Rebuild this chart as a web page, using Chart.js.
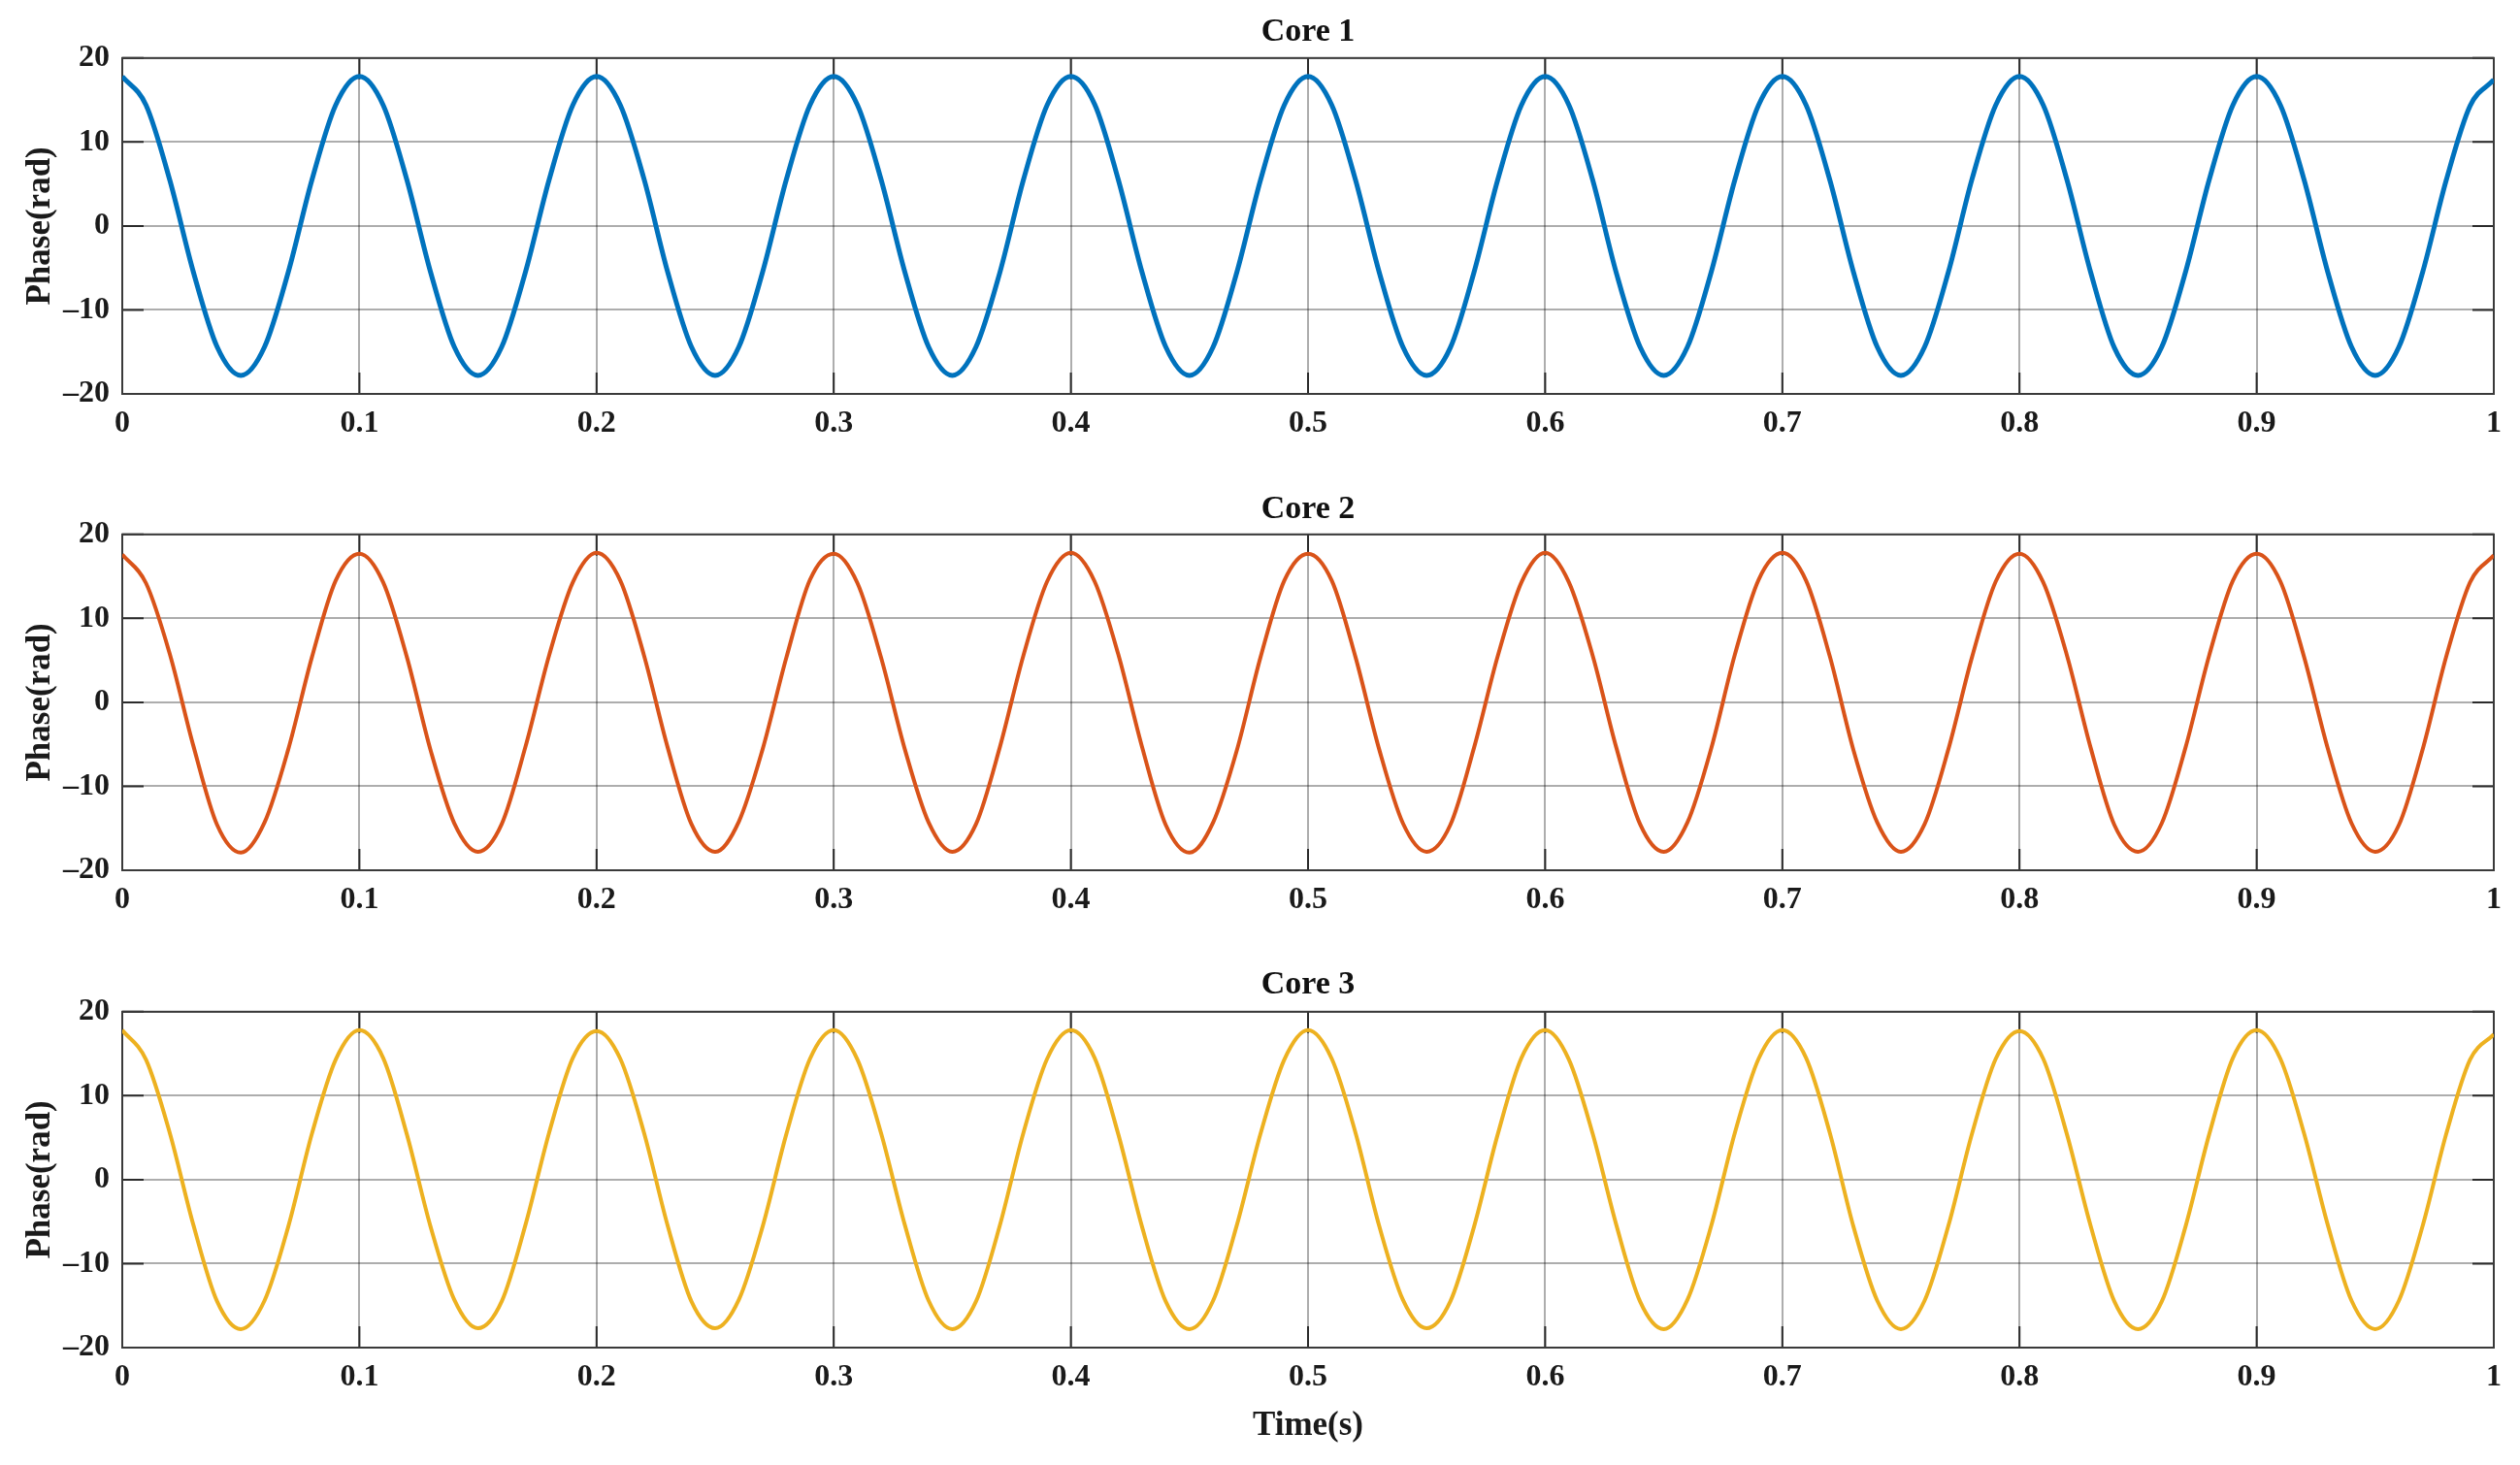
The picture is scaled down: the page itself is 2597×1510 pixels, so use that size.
<!DOCTYPE html>
<html>
<head>
<meta charset="utf-8">
<script src="https://cdn.jsdelivr.net/npm/chart.js@4"></script>
<style>
html, body { margin: 0; padding: 0; background: #fff; }
body { width: 2597px; height: 1510px; position: relative; overflow: hidden; }
canvas { position: absolute; left: 0; }
</style>
</head>
<body>
<canvas id="core1" width="2597" height="480" style="top:0px"></canvas>
<canvas id="core2" width="2597" height="500" style="top:480px"></canvas>
<canvas id="core3" width="2597" height="530" style="top:980px"></canvas>
<script>
const core1 = [
    17.8, 14.4, 5.5, -5.5, -14.4, -17.8, -14.4, -5.5, 5.5, 14.4,
    17.8, 14.4, 5.5, -5.5, -14.4, -17.8, -14.4, -5.5, 5.5, 14.4,
    17.8, 14.4, 5.6, -5.5, -14.4, -17.8, -14.4, -5.5, 5.5, 14.4,
    17.8, 14.4, 5.5, -5.5, -14.4, -17.8, -14.4, -5.6, 5.5, 14.4,
    17.8, 14.5, 5.5, -5.5, -14.4, -17.8, -14.4, -5.5, 5.5, 14.4,
    17.8, 14.4, 5.5, -5.5, -14.4, -17.8, -14.5, -5.5, 5.5, 14.4,
    17.8, 14.4, 5.5, -5.6, -14.4, -17.8, -14.4, -5.5, 5.5, 14.4,
    17.8, 14.4, 5.5, -5.5, -14.4, -17.8, -14.4, -5.5, 5.6, 14.4,
    17.8, 14.4, 5.5, -5.5, -14.5, -17.8, -14.4, -5.5, 5.5, 14.4,
    17.8, 14.4, 5.5, -5.5, -14.4, -17.8, -14.4, -5.5, 5.5, 14.3,
    17.4
];
const core2 = [
    17.6, 14.2, 5.8, -5.2, -14.6, -17.9, -14.3, -5.6, 5.4, 14.5,
    17.7, 14.3, 5.4, -5.7, -14.4, -17.8, -14.5, -5.3, 5.6, 14.3,
    17.8, 14.5, 5.6, -5.4, -14.5, -17.8, -14.2, -5.6, 5.3, 14.6,
    17.7, 14.2, 5.3, -5.6, -14.3, -17.8, -14.5, -5.4, 5.6, 14.4,
    17.8, 14.4, 5.7, -5.3, -14.6, -17.9, -14.3, -5.7, 5.4, 14.5,
    17.7, 14.5, 5.4, -5.6, -14.4, -17.8, -14.6, -5.4, 5.5, 14.3,
    17.8, 14.3, 5.6, -5.4, -14.5, -17.8, -14.3, -5.5, 5.7, 14.6,
    17.8, 14.5, 5.5, -5.7, -14.3, -17.8, -14.5, -5.6, 5.4, 14.4,
    17.7, 14.3, 5.6, -5.4, -14.6, -17.8, -14.4, -5.4, 5.6, 14.5,
    17.7, 14.4, 5.4, -5.5, -14.4, -17.8, -14.6, -5.6, 5.5, 14.3,
    17.5
];
const core3 = [
    17.8, 14.3, 5.6, -5.4, -14.5, -17.8, -14.4, -5.6, 5.5, 14.3,
    17.8, 14.5, 5.4, -5.6, -14.3, -17.7, -14.5, -5.4, 5.6, 14.5,
    17.7, 14.4, 5.6, -5.5, -14.5, -17.7, -14.3, -5.6, 5.4, 14.4,
    17.8, 14.3, 5.5, -5.4, -14.4, -17.8, -14.5, -5.5, 5.6, 14.4,
    17.8, 14.5, 5.4, -5.6, -14.5, -17.8, -14.4, -5.4, 5.5, 14.3,
    17.8, 14.4, 5.6, -5.5, -14.3, -17.7, -14.5, -5.6, 5.4, 14.5,
    17.8, 14.3, 5.5, -5.4, -14.5, -17.8, -14.3, -5.5, 5.6, 14.4,
    17.8, 14.5, 5.6, -5.6, -14.4, -17.8, -14.4, -5.5, 5.5, 14.4,
    17.7, 14.4, 5.4, -5.5, -14.5, -17.8, -14.5, -5.6, 5.4, 14.5,
    17.8, 14.4, 5.5, -5.4, -14.4, -17.8, -14.4, -5.5, 5.5, 14.3,
    17.3
];
const times = core1.map((v, i) => +(i * 0.01).toFixed(2));

const xTicks = [0, 0.1, 0.2, 0.3, 0.4, 0.5, 0.6, 0.7, 0.8, 0.9, 1];
const xTickLabels = ['0', '0.1', '0.2', '0.3', '0.4', '0.5', '0.6', '0.7', '0.8', '0.9', '1'];
const yTicks = [-20, -10, 0, 10, 20];
const yTickLabels = ['\u201320', '\u201310', '0', '10', '20'];

const serif = "'Liberation Serif', 'Times New Roman', serif";

// matlab style box with inward ticks
const boxTicks = {
    id: 'boxTicks',
    beforeDatasetsDraw(chart) {
        const ctx = chart.ctx;
        const a = chart.chartArea;
        const x = chart.scales.x;
        const y = chart.scales.y;
        const len = 22;
        ctx.save();
        ctx.strokeStyle = '#2b2b2b';
        ctx.lineWidth = 2;
        ctx.beginPath();
        xTicks.forEach(v => {
            const px = x.getPixelForValue(v);
            ctx.moveTo(px, a.bottom); ctx.lineTo(px, a.bottom - len);
            ctx.moveTo(px, a.top); ctx.lineTo(px, a.top + len);
        });
        yTicks.forEach(v => {
            const py = y.getPixelForValue(v);
            ctx.moveTo(a.left, py); ctx.lineTo(a.left + len, py);
            ctx.moveTo(a.right, py); ctx.lineTo(a.right - len, py);
        });
        ctx.stroke();
        ctx.strokeStyle = '#3a3a3a';
        ctx.strokeRect(a.left, a.top, a.right - a.left, a.bottom - a.top);
        ctx.restore();
    }
};

function makePanel(id, title, values, color, width, titlePad, xHeight, showTime) {
    return new Chart(document.getElementById(id), {
        type: 'line',
        data: {
            datasets: [{
                label: title,
                data: times.map((t, i) => ({ x: t, y: values[i] })),
                borderColor: color,
                borderWidth: width,
                pointRadius: 0,
                cubicInterpolationMode: 'monotone',
                fill: false
            }]
        },
        options: {
            responsive: false,
            animation: false,
            layout: { padding: { left: 0, right: 27, top: 0, bottom: 0 } },
            plugins: {
                legend: { display: false },
                tooltip: { enabled: false },
                title: {
                    display: true,
                    fullSize: false,
                    text: title,
                    color: '#111',
                    font: { family: serif, size: 34, weight: 'bold' },
                    padding: titlePad
                }
            },
            scales: {
                x: {
                    type: 'linear',
                    min: 0,
                    max: 1,
                    afterBuildTicks: s => { s.ticks = xTicks.map(v => ({ value: v })); },
                    afterFit: s => { s.height = xHeight; },
                    ticks: {
                        autoSkip: false,
                        maxRotation: 0,
                        padding: 12,
                        color: '#1a1a1a',
                        font: { family: serif, size: 32, weight: 'bold' },
                        callback: (v, i) => xTickLabels[i]
                    },
                    grid: { color: 'rgba(0,0,0,0.32)', lineWidth: 2, drawTicks: false },
                    border: { display: false },
                    title: {
                        display: showTime,
                        text: 'Time(s)',
                        color: '#1a1a1a',
                        font: { family: serif, size: 35, weight: 'bold' },
                        padding: { top: 0, bottom: 19 }
                    }
                },
                y: {
                    min: -20,
                    max: 20,
                    afterBuildTicks: s => { s.ticks = yTicks.map(v => ({ value: v })); },
                    afterFit: s => { s.width = 126; },
                    ticks: {
                        padding: 13,
                        color: '#1a1a1a',
                        font: { family: serif, size: 32, weight: 'bold' },
                        callback: (v, i) => yTickLabels[i]
                    },
                    grid: { color: 'rgba(0,0,0,0.32)', lineWidth: 2, drawTicks: false },
                    border: { display: false },
                    title: {
                        display: true,
                        text: 'Phase(rad)',
                        color: '#1a1a1a',
                        font: { family: serif, size: 35, weight: 'bold' },
                        padding: { top: 21, bottom: 0 }
                    }
                }
            }
        },
        plugins: [boxTicks]
    });
}

makePanel('core1', 'Core 1', core1, '#0072BD', 5, { top: 13, bottom: 6 }, 74, false);
makePanel('core2', 'Core 2', core2, '#D95319', 4, { top: 25, bottom: 5 }, 83, false);
makePanel('core3', 'Core 3', core3, '#EDB120', 4, { top: 15, bottom: 7 }, 121, true);
</script>
</body>
</html>
